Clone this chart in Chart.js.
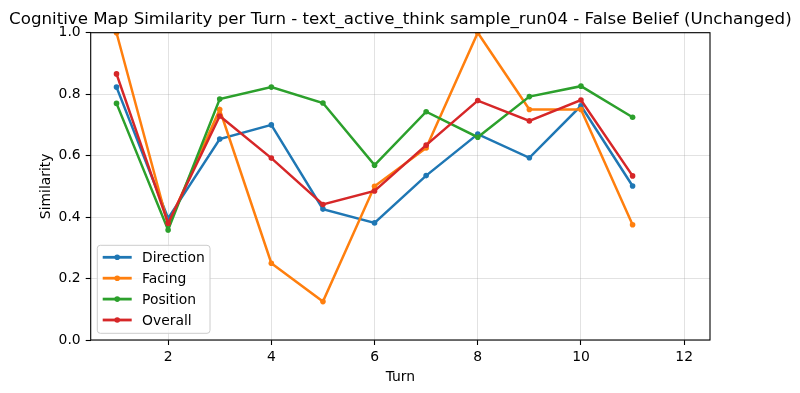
<!DOCTYPE html>
<html>
<head>
<meta charset="utf-8">
<script src="https://cdn.jsdelivr.net/npm/chart.js@4/dist/chart.umd.min.js"></script>
<style>
html,body{margin:0;padding:0;background:#fff;}
canvas{display:block;}
</style>
</head>
<body>
<canvas id="c" width="800" height="393"></canvas>
<script>
const chartTitle = "Cognitive Map Similarity per Turn - text_active_think sample_run04 - False Belief (Unchanged)";
const xLabel = "Turn";
const yLabel = "Similarity";
const turns = [1, 2, 3, 4, 5, 6, 7, 8, 9, 10, 11];
const direction = [0.823, 0.396, 0.654, 0.700, 0.426, 0.381, 0.535, 0.670, 0.593, 0.762, 0.501];
const facing    = [1.0, 0.375, 0.75, 0.25, 0.125, 0.5, 0.625, 1.0, 0.75, 0.75, 0.375];
const position  = [0.770, 0.358, 0.784, 0.823, 0.771, 0.569, 0.743, 0.660, 0.792, 0.826, 0.725];
const overall   = [0.866, 0.380, 0.729, 0.592, 0.441, 0.485, 0.634, 0.779, 0.713, 0.781, 0.534];
const seriesNames = ["Direction", "Facing", "Position", "Overall"];
const seriesColors = ["#1f77b4", "#ff7f0e", "#2ca02c", "#d62728"];
const xTicks = [2, 4, 6, 8, 10, 12];
const yTicks = [0, 0.2, 0.4, 0.6, 0.8, 1.0];

const FONT = "'DejaVu Sans', sans-serif";
Chart.defaults.font.family = FONT;
Chart.defaults.font.size = 13.9;
Chart.defaults.color = "#000";

const allSeries = [direction, facing, position, overall];
const datasets = allSeries.map((vals, i) => ({
  label: seriesNames[i],
  data: turns.map((t, j) => ({x: t, y: vals[j]})),
  borderColor: seriesColors[i],
  backgroundColor: seriesColors[i],
  borderWidth: 2.5,
  pointRadius: 2.8,
  pointHoverRadius: 2.8,
  pointBorderWidth: 0,
  tension: 0,
  fill: false,
  order: 4 - i
}));

const decor = {
  id: 'decor',
  afterDatasetsDraw(chart) {
    const ctx = chart.ctx;
    const a = chart.chartArea;
    ctx.save();
    // frame
    ctx.strokeStyle = '#000';
    ctx.lineWidth = 1.1;
    ctx.strokeRect(a.left, a.top, a.right - a.left, a.bottom - a.top);
    // legend
    const lx = 97.3, ly = 245.3, lw = 112.7, lh = 88;
    ctx.beginPath();
    ctx.roundRect(lx, ly, lw, lh, 3);
    ctx.fillStyle = 'rgba(255,255,255,0.8)';
    ctx.fill();
    ctx.strokeStyle = '#cccccc';
    ctx.lineWidth = 1;
    ctx.stroke();
    ctx.font = "13.9px " + FONT;
    ctx.textBaseline = 'middle';
    ctx.textAlign = 'left';
    seriesNames.forEach((name, i) => {
      const y = 257.3 + i * 20.9;
      ctx.strokeStyle = seriesColors[i];
      ctx.lineWidth = 2.8;
      ctx.beginPath();
      ctx.moveTo(102.7, y);
      ctx.lineTo(131.7, y);
      ctx.stroke();
      ctx.fillStyle = seriesColors[i];
      ctx.beginPath();
      ctx.arc(117.2, y, 2.8, 0, Math.PI * 2);
      ctx.fill();
      ctx.fillStyle = '#000';
      ctx.fillText(name, 142, y + 1);
    });
    ctx.restore();
  },
  afterDraw(chart) {
    const ctx = chart.ctx;
    const a = chart.chartArea;
    ctx.save();
    ctx.fillStyle = '#000';
    ctx.font = "16.67px " + FONT;
    ctx.textAlign = 'center';
    ctx.textBaseline = 'alphabetic';
    ctx.fillText(chartTitle, (a.left + a.right) / 2, 24.4);
    ctx.font = "13.9px " + FONT;
    ctx.textBaseline = 'middle';
    ctx.fillText(xLabel, (a.left + a.right) / 2, 377);
    ctx.translate(46, (a.top + a.bottom) / 2);
    ctx.rotate(-Math.PI / 2);
    ctx.fillText(yLabel, 0, 0);
    ctx.restore();
  }
};

new Chart(document.getElementById('c'), {
  type: 'line',
  data: { datasets },
  options: {
    responsive: false,
    devicePixelRatio: 1,
    animation: false,
    events: [],
    layout: { padding: { top: 32.7, right: 90, left: 0, bottom: 0 } },
    plugins: {
      legend: { display: false },
      title: { display: false },
      tooltip: { enabled: false }
    },
    scales: {
      x: {
        type: 'linear',
        min: 0.5,
        max: 12.5,
        afterBuildTicks: (s) => { s.ticks = xTicks.map(v => ({ value: v })); },
        afterFit: (s) => { s.height = 53; },
        ticks: {
          padding: 4,
          maxRotation: 0,
          autoSkip: false,
          font: { size: 13.9 },
          color: '#000',
          callback: (v) => String(v)
        },
        grid: {
          color: 'rgba(160,160,160,0.3)',
          lineWidth: 1,
          tickColor: '#000',
          tickLength: 5,
          tickWidth: 1.1
        },
        border: { display: false }
      },
      y: {
        type: 'linear',
        min: 0,
        max: 1,
        afterBuildTicks: (s) => { s.ticks = yTicks.map(v => ({ value: v })); },
        afterFit: (s) => { s.width = 90.7; },
        ticks: {
          padding: 5,
          autoSkip: false,
          font: { size: 13.9 },
          color: '#000',
          callback: (v) => Number(v).toFixed(1)
        },
        grid: {
          color: 'rgba(160,160,160,0.3)',
          lineWidth: 1,
          tickColor: '#000',
          tickLength: 5,
          tickWidth: 1.1
        },
        border: { display: false }
      }
    }
  },
  plugins: [decor]
});
</script>
</body>
</html>
